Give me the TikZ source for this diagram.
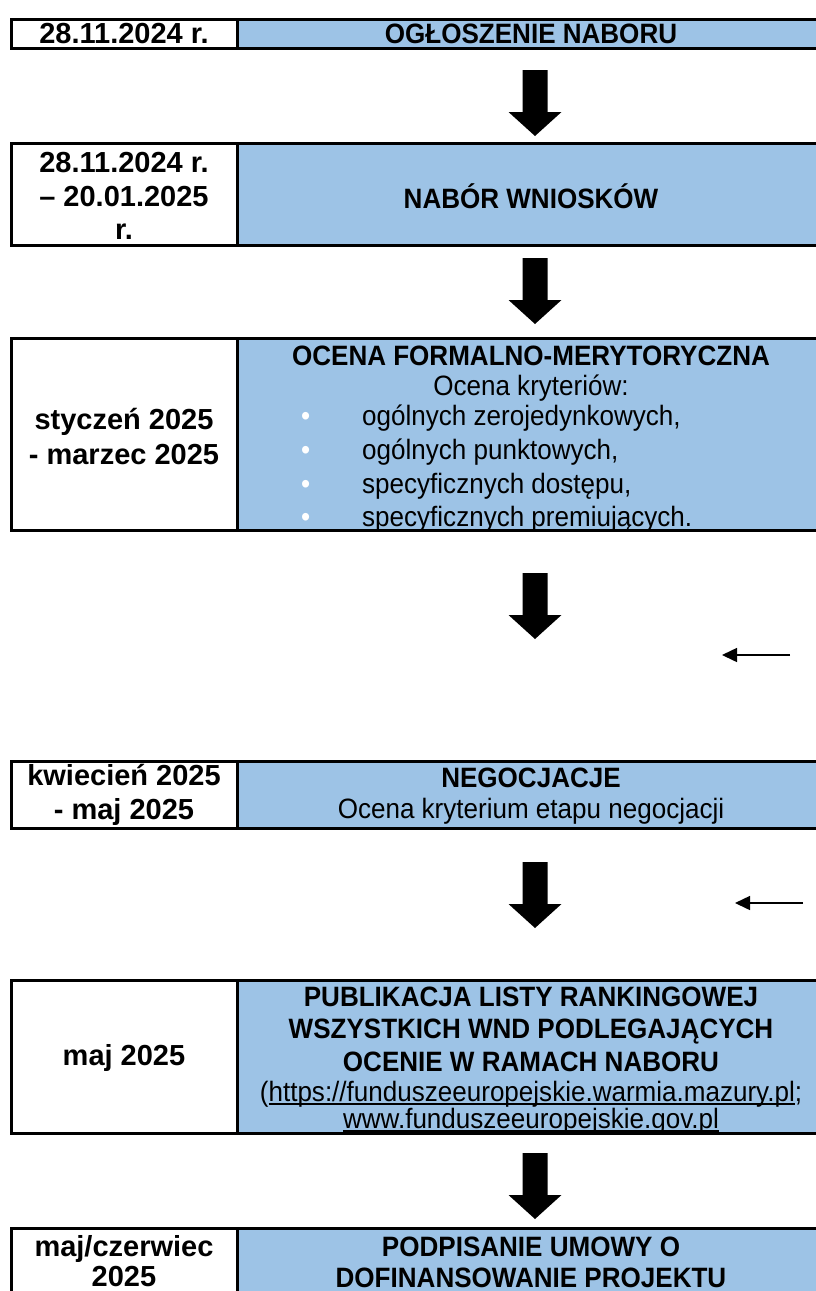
\documentclass[tikz,border=0pt]{standalone}
\usepackage{fontspec}
\setmainfont{Liberation Sans}
\newfontfamily\narrowfont[FakeStretch=0.93]{Liberation Sans}
\usetikzlibrary{arrows.meta}
\definecolor{cellblue}{RGB}{157,195,230}
\newcommand\ulin[1]{\setbox0\hbox{#1}\rlap{\rule[-3.5pt]{\wd0}{1.5pt}}\box0}
\newcommand\blockdown[2]{%
  \coordinate (#1) at #2;
  \fill[black] ([xshift=-12.5pt]#1) -- ([xshift=12.5pt]#1) -- ([xshift=12.5pt,yshift=-42pt]#1)
    -- ([xshift=26.5pt,yshift=-42pt]#1) -- ([yshift=-66pt]#1) -- ([xshift=-26.5pt,yshift=-42pt]#1)
    -- ([xshift=-12.5pt,yshift=-42pt]#1) -- cycle;}
\tikzset{
  cellL/.style={draw=black, line width=3pt, fill=white, minimum width=226pt, inner sep=0pt},
  cellR/.style={draw=black, line width=3pt, fill=cellblue, minimum width=589pt, inner sep=0pt},
  txt/.style={inner sep=0pt, align=center, font=\narrowfont\fontsize{28}{33}\selectfont},
  btxt/.style={inner sep=0pt, align=center, font=\narrowfont\fontsize{28}{33}\selectfont\bfseries},
  ltxt/.style={inner sep=0pt, align=center, font=\fontsize{29}{33.5}\selectfont\bfseries},
  smallarr/.style={line width=1.5pt, -{Triangle[length=15pt,width=14pt]}}
}
\begin{document}
\begin{tikzpicture}[x=1pt,y=-1pt]
\clip (0,0) rectangle (816,1291);
\fill[white] (0,0) rectangle (816,1291);
% row 1
\node[cellR, minimum height=29pt] (r1) at (531.5,33.5) {};
\node[cellL, minimum height=29pt] (l1) at (124,33.5) {};
\node[ltxt] (l1t) at (124,34) {28.11.2024 r.};
\node[btxt] (r1t) at (531,34) {OGŁOSZENIE NABORU};
\blockdown{a1}{(535,70)}
% row 2
\node[cellR, minimum height=102pt] (r2) at (531.5,194) {};
\node[cellL, minimum height=102pt] (l2) at (124,194) {};
\node[ltxt] (l2t) at (124,196) {28.11.2024 r.\\– 20.01.2025\\r.};
\node[btxt] (r2t) at (531,196) {NABÓR WNIOSKÓW};
\blockdown{a2}{(535,258)}
% row 3
\node[cellR, minimum height=192pt] (r3) at (531.5,434) {};
\node[cellL, minimum height=192pt] (l3) at (124,434) {};
\node[ltxt, font=\fontsize{29}{35}\selectfont\bfseries] (l3t) at (124,436) {styczeń 2025\\- marzec 2025};
\node[btxt] (r3h) at (531,356) {OCENA FORMALNO-MERYTORYCZNA};
\node[txt] (r3s) at (531,388) {Ocena kryteriów:};
\node[txt, align=left, anchor=west, font=\narrowfont\fontsize{28}{33.7}\selectfont] (r3b) at (301,469)
  {\makebox[61pt][l]{\textcolor{white}{•}}ogólnych zerojedynkowych,\\
   \makebox[61pt][l]{\textcolor{white}{•}}ogólnych punktowych,\\
   \makebox[61pt][l]{\textcolor{white}{•}}specyficznych dostępu,\\
   \makebox[61pt][l]{\textcolor{white}{•}}specyficznych premiujących.};
\blockdown{a3}{(535,573)}
\coordinate (s1a) at (790,655);
\coordinate (s1b) at (722,655);
\draw[smallarr] (s1a) -- (s1b);
% row 4
\node[cellR, minimum height=67pt] (r4) at (531.5,794.5) {};
\node[cellL, minimum height=67pt] (l4) at (124,794.5) {};
\node[ltxt] (l4t) at (124,795) {kwiecień 2025\\- maj 2025};
\node[btxt] (r4h) at (531,778) {NEGOCJACJE};
\node[txt] (r4s) at (531,811) {Ocena kryterium etapu negocjacji};
\blockdown{a4}{(535,862)}
\coordinate (s2a) at (803,903);
\coordinate (s2b) at (735,903);
\draw[smallarr] (s2a) -- (s2b);
% row 5
\node[cellR, minimum height=153pt] (r5) at (531.5,1056.5) {};
\node[cellL, minimum height=153pt] (l5) at (124,1056.5) {};
\node[ltxt] (l5t) at (124,1058) {maj 2025};
\node[btxt, font=\narrowfont\fontsize{28}{32.5}\selectfont\bfseries] (r5h) at (531,1029) {PUBLIKACJA LISTY RANKINGOWEJ\\WSZYSTKICH WND PODLEGAJĄCYCH\\OCENIE W RAMACH NABORU};
\node[txt] (r5u1) at (531,1094) {(\ulin{https://funduszeeuropejskie.warmia.mazury.pl};};
\node[txt] (r5u2) at (531,1121) {\ulin{www.funduszeeuropejskie.gov.pl}};
\blockdown{a5}{(535,1153)}
% row 6
\node[cellR, minimum height=92pt] (r6) at (531.5,1274) {};
\node[cellL, minimum height=92pt] (l6) at (124,1274) {};
\node[ltxt, font=\fontsize{29}{30}\selectfont\bfseries] (l6t) at (124,1261) {maj/czerwiec\\2025};
\node[btxt, font=\narrowfont\fontsize{28}{31}\selectfont\bfseries] (r6t) at (531,1262) {PODPISANIE UMOWY O\\DOFINANSOWANIE PROJEKTU};
\end{tikzpicture}
\end{document}
